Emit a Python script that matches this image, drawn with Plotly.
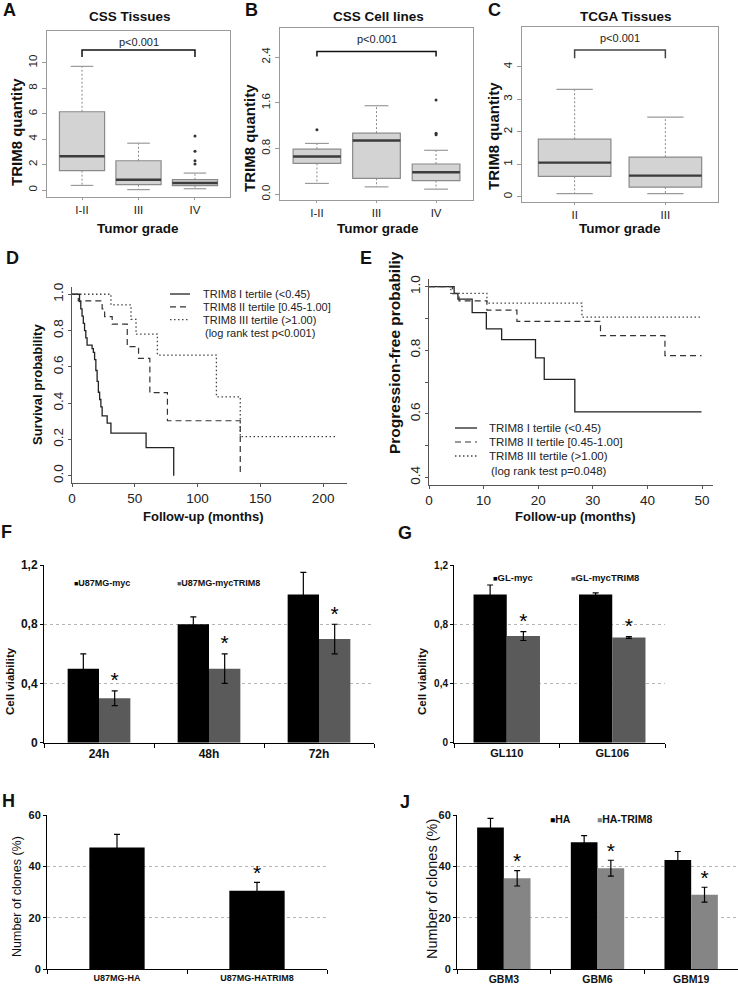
import plotly.graph_objects as go

W, H = 738, 987
FONT = "Liberation Sans, Arial, sans-serif"

# ---------------- data ----------------
# A: CSS Tissues
a_groups = ["I-II", "III", "IV"]
a_low = [0.36, 0.03, 0.10]
a_q1 = [1.52, 0.42, 0.34]
a_med = [2.65, 0.81, 0.55]
a_q3 = [6.15, 2.30, 0.81]
a_high = [9.72, 3.68, 1.33]
a_out_grp = [3, 3, 3, 3]
a_out_val = [2.05, 2.30, 3.05, 4.25]

# B: CSS Cell lines
b_groups = ["I-II", "III", "IV"]
b_low = [0.19, 0.13, 0.09]
b_q1 = [0.54, 0.28, 0.24]
b_med = [0.66, 0.94, 0.385]
b_q3 = [0.79, 1.07, 0.53]
b_high = [0.89, 1.55, 0.77]
b_out_grp = [1, 3, 3, 3]
b_out_val = [1.13, 1.04, 1.07, 1.65]

# C: TCGA Tissues
c_groups = ["II", "III"]
c_low = [0.10, 0.10]
c_q1 = [0.63, 0.30]
c_med = [1.05, 0.65]
c_q3 = [1.77, 1.22]
c_high = [3.30, 2.45]

# D: overall survival (months, probability)
tert_labels = ["TRIM8 I tertile (<0.45)", "TRIM8 II tertile [0.45-1.00]", "TRIM8 III tertile (>1.00)"]
d1_t = [0, 6, 7, 8, 9, 10, 11, 12, 16, 17, 18, 19, 20, 21, 22, 23, 24, 28, 31, 59, 81]
d1_s = [1.0, 0.96, 0.92, 0.88, 0.84, 0.80, 0.76, 0.72, 0.70, 0.68, 0.64, 0.58, 0.52, 0.46, 0.42,
        0.38, 0.33, 0.29, 0.235, 0.155, 0.0]
d2_t = [0, 5, 24, 26, 32, 44, 53, 62, 76, 134]
d2_s = [1.0, 0.963, 0.92, 0.877, 0.835, 0.711, 0.647, 0.458, 0.303, 0.0]
d3_t = [0, 31, 47, 51, 68, 115, 134, 210]
d3_s = [1.0, 0.941, 0.862, 0.78, 0.665, 0.435, 0.215, 0.215]

# E: progression-free survival
e1_t = [0, 4.6, 5.3, 7.9, 10.5, 13.3, 19.5, 21.1, 26.7, 49.9]
e1_s = [1.0, 0.979, 0.961, 0.918, 0.867, 0.833, 0.776, 0.708, 0.606, 0.606]
e2_t = [0, 4.3, 5.5, 10.6, 16.1, 31.4, 43.2, 49.9]
e2_s = [1.0, 0.978, 0.955, 0.926, 0.891, 0.846, 0.783, 0.783]
e3_t = [0, 4.0, 10.6, 28.0, 49.9]
e3_s = [1.0, 0.979, 0.948, 0.904, 0.904]

# F: cell viability U87MG
f_cats = ["24h", "48h", "72h"]
f_myc = [0.50, 0.80, 1.00]
f_myc_err = [0.10, 0.05, 0.15]
f_trim = [0.30, 0.50, 0.70]
f_trim_err = [0.05, 0.10, 0.10]
f_star = [0, 1, 2]

# G: cell viability GL lines
g_cats = ["GL110", "GL106"]
g_myc = [1.00, 1.00]
g_myc_err = [0.065, 0.012]
g_trim = [0.72, 0.71]
g_trim_err = [0.03, 0.006]
g_star = [0, 1]

# H: clones U87MG
h_cats = ["U87MG-HA", "U87MG-HATRIM8"]
h_vals = [47.4, 30.5]
h_err = [5.1, 3.3]
h_star = [1]

# J: clones GBM
j_cats = ["GBM3", "GBM6", "GBM19"]
j_ha = [55.1, 49.4, 42.5]
j_ha_err = [3.6, 2.6, 3.3]
j_trim = [35.4, 39.3, 29.0]
j_trim_err = [3.0, 3.1, 2.9]
j_star = [0, 1, 2]


def px(x):
    return x / W


def py(y):
    return 1 - y / H


def dom_x(x0, x1):
    return [x0 / W, x1 / W]


def dom_y(y0, y1):
    return [1 - y1 / H, 1 - y0 / H]


def aid(n):
    return "" if n == 1 else str(n)


fig = go.Figure()
annots = []


def text(x, y, s, size, bold=False, angle=0, xanchor="center", color="#111"):
    annots.append(dict(x=px(x), y=py(y), xref="paper", yref="paper", text=f"<b>{s}</b>" if bold else s,
                       showarrow=False, xanchor=xanchor, yanchor="middle", textangle=angle,
                       font=dict(family=FONT, size=size, color=color)))


# ---------------- box plots ----------------
def add_box_panel(n, groups, low, q1, med, q3, high, out_g=None, out_v=None):
    xa, ya = "x" + aid(n), "y" + aid(n)
    pos = list(range(1, len(groups) + 1))
    fig.add_trace(go.Box(x=pos, q1=q1, median=med, q3=q3, lowerfence=q1, upperfence=q3,
                         width=0.8, whiskerwidth=0, fillcolor="#d3d3d3",
                         line=dict(color="#8a8a8a", width=1.2), xaxis=xa, yaxis=ya,
                         hoverinfo="skip", showlegend=False))
    wx, wy, cx, cy, mx, my = [], [], [], [], [], []
    for p, lo, a, m, b, hi in zip(pos, low, q1, med, q3, high):
        wx += [p, p, None, p, p, None]
        wy += [b, hi, None, a, lo, None]
        cx += [p - 0.2, p + 0.2, None, p - 0.2, p + 0.2, None]
        cy += [hi, hi, None, lo, lo, None]
        mx += [p - 0.4, p + 0.4, None]
        my += [m, m, None]
    fig.add_trace(go.Scatter(x=wx, y=wy, mode="lines", xaxis=xa, yaxis=ya, showlegend=False,
                             line=dict(color="#8a8a8a", width=1, dash="2px,2px"), hoverinfo="skip"))
    fig.add_trace(go.Scatter(x=cx, y=cy, mode="lines", xaxis=xa, yaxis=ya, showlegend=False,
                             line=dict(color="#9a9a9a", width=1.2), hoverinfo="skip"))
    fig.add_trace(go.Scatter(x=mx, y=my, mode="lines", xaxis=xa, yaxis=ya, showlegend=False,
                             line=dict(color="#3c3c3c", width=2.4), hoverinfo="skip"))
    if out_g:
        fig.add_trace(go.Scatter(x=out_g, y=out_v, mode="markers", xaxis=xa, yaxis=ya, showlegend=False,
                                 marker=dict(color="#333", size=3), hoverinfo="skip"))


def add_bracket(n, g0, g1, y_lo, y_hi, y_txt, color):
    xa, ya = "x" + aid(n), "y" + aid(n)
    fig.add_trace(go.Scatter(x=[g0, g0, g1, g1], y=[y_lo, y_hi, y_hi, y_lo], mode="lines",
                             xaxis=xa, yaxis=ya, showlegend=False, hoverinfo="skip",
                             line=dict(color=color, width=1.5)))
    annots.append(dict(x=(g0 + g1) / 2, y=y_txt, xref=xa, yref=ya, text="p&lt;0.001", showarrow=False,
                       font=dict(family=FONT, size=11, color="#222")))


add_box_panel(1, a_groups, a_low, a_q1, a_med, a_q3, a_high, a_out_grp, a_out_val)
add_box_panel(2, b_groups, b_low, b_q1, b_med, b_q3, b_high, b_out_grp, b_out_val)
add_box_panel(3, c_groups, c_low, c_q1, c_med, c_q3, c_high)
add_bracket(1, 1, 3, 10.45, 11.0, 11.65, "#111")
add_bracket(2, 1, 3, 2.41, 2.50, 2.72, "#111")
add_bracket(3, 1, 2, 4.26, 4.51, 4.87, "#444")


def box_axes(n, xdom, ydom, ngroups, groups, yr, yt, ytxt):
    ax = dict(showline=True, mirror=True, linecolor="#9a9a9a", linewidth=1, ticks="outside", ticklen=2,
              tickcolor="#9a9a9a", showgrid=False, zeroline=False, automargin=False,
              tickfont=dict(family=FONT, size=11.5, color="#222"))
    fig.layout["xaxis" + aid(n)] = dict(ax, domain=xdom, anchor="y" + aid(n),
                                        range=[0.5 - 0.04 * ngroups, ngroups + 0.5 + 0.04 * ngroups],
                                        tickvals=list(range(1, ngroups + 1)), ticktext=groups)
    fig.layout["yaxis" + aid(n)] = dict(ax, domain=ydom, anchor="x" + aid(n), range=yr, ticklen=4,
                                        tickvals=yt, ticktext=ytxt, tickangle=-90)


box_axes(1, dom_x(47, 230), dom_y(31, 197), 3, a_groups, [-0.55, 12.5], [0, 2, 4, 6, 8, 10],
         ["0", "2", "4", "6", "8", "10"])
box_axes(2, dom_x(280, 473), dom_y(28, 200), 3, b_groups, [-0.1, 2.91], [0, 0.8, 1.6, 2.4],
         ["0.0", "0.8", "1.6", "2.4"])
box_axes(3, dom_x(522, 718), dom_y(27, 202), 2, c_groups, [-0.16, 5.22], [0, 1, 2, 3, 4],
         ["0", "1", "2", "3", "4"])

for lab, x in [("A", 9), ("B", 251), ("C", 494)]:
    text(x, 10, lab, 18, bold=True)
for t, x in [("CSS Tissues", 130), ("CSS Cell lines", 378), ("TCGA Tissues", 626)]:
    text(x, 17, t, 13.5, bold=True)
for x in [138, 378, 620]:
    text(x, 228, "Tumor grade", 13.5, bold=True)
for x, y in [(16, 132), (250, 138), (494, 136)]:
    text(x, y, "TRIM8 quantity", 15, bold=True, angle=-90)

# ---------------- survival curves ----------------
styles = [dict(color="#222", width=1.3), dict(color="#333", width=1.2, dash="6px,4px"),
          dict(color="#444", width=1.3, dash="1.5px,2.5px")]
for ts, ss, st in zip([d1_t, d2_t, d3_t], [d1_s, d2_s, d3_s], styles):
    fig.add_trace(go.Scatter(x=ts, y=ss, mode="lines", line_shape="hv", line=st, xaxis="x4", yaxis="y4",
                             showlegend=False, hoverinfo="skip"))
for ts, ss, st in zip([e1_t, e2_t, e3_t], [e1_s, e2_s, e3_s], styles):
    fig.add_trace(go.Scatter(x=ts, y=ss, mode="lines", line_shape="hv", line=st, xaxis="x5", yaxis="y5",
                             showlegend=False, hoverinfo="skip"))

surv_ax = dict(showline=True, mirror=False, linecolor="#555", linewidth=1, ticks="outside", ticklen=3,
               tickcolor="#555", showgrid=False, zeroline=False, automargin=False,
               tickfont=dict(family=FONT, size=13.5, color="#222"))
fig.layout.xaxis4 = dict(surv_ax, domain=dom_x(72, 347), anchor="y4", range=[0, 219],
                         tickvals=[0, 50, 100, 150, 200])
fig.layout.yaxis4 = dict(surv_ax, domain=dom_y(287, 483), anchor="x4", range=[-0.04, 1.04],
                         tickvals=[0, 0.2, 0.4, 0.6, 0.8, 1.0],
                         ticktext=["0.0", "0.2", "0.4", "0.6", "0.8", "1.0"], tickangle=-90)
fig.layout.xaxis5 = dict(surv_ax, domain=dom_x(429, 713), anchor="y5", range=[0, 52],
                         tickvals=[0, 10, 20, 30, 40, 50])
fig.layout.yaxis5 = dict(surv_ax, domain=dom_y(279, 485), anchor="x5", range=[0.376, 1.024],
                         tickvals=[0.4, 0.5, 0.6, 0.7, 0.8, 0.9, 1.0],
                         ticktext=["0.4", "", "0.6", "", "0.8", "", "1.0"], tickangle=-90)

# legend keys
shapes = []
for (lx0, lx1, tx, y0, step, note, ny, fs), p_txt in zip(
        [(170, 190, 201, 294, 12.8, 203, 333, 11), (455, 477, 487, 428, 14, 489, 471, 11.5)],
        ["(log rank test p&lt;0.001)", "(log rank test p=0.048)"]):
    for i, (lab, st) in enumerate(zip(tert_labels, styles)):
        yy = y0 + i * step
        shapes.append(dict(type="line", xref="paper", yref="paper", x0=px(lx0), x1=px(lx1),
                           y0=py(yy), y1=py(yy), line=st))
        text(tx, yy, lab.replace("<", "&lt;").replace(">", "&gt;"), fs, xanchor="left", color="#222")
    text(note, ny, p_txt, fs, xanchor="left", color="#222")

text(12, 258, "D", 18, bold=True)
text(366, 258, "E", 18, bold=True)
text(37, 385, "Survival probability", 13, bold=True, angle=-90)
text(395, 353, "Progression-free probabiliy", 15.5, bold=True, angle=-90)
text(203, 516, "Follow-up (months)", 13, bold=True)
text(575, 516, "Follow-up (months)", 13, bold=True)

# ---------------- bar charts ----------------
BLACK, DGRAY, LGRAY = "#000000", "#5a5a5a", "#858585"


def add_bar_panel(n, cats, series, w, stars, pad, star_size=21):
    xa, ya = "x" + aid(n), "y" + aid(n)
    pos = list(range(len(cats)))
    k = len(series)
    for j, (vals, errs, col) in enumerate(series):
        off = -w * k / 2 + j * w
        fig.add_trace(go.Bar(x=pos, y=vals, width=w, offset=off, marker=dict(color=col, line=dict(width=0)),
                             error_y=dict(type="data", array=errs, visible=True, color="black",
                                          thickness=1.2, width=3),
                             xaxis=xa, yaxis=ya, showlegend=False, hoverinfo="skip"))
    vals, errs, col = series[-1]
    off = -w * k / 2 + (k - 1) * w + w / 2
    fig.add_trace(go.Scatter(x=[pos[i] + off for i in stars], y=[vals[i] + errs[i] + pad for i in stars],
                             mode="text", text=["*"] * len(stars), textposition="middle center",
                             textfont=dict(family=FONT, size=star_size, color="black"),
                             xaxis=xa, yaxis=ya, showlegend=False, hoverinfo="skip"))


add_bar_panel(6, f_cats, [(f_myc, f_myc_err, BLACK), (f_trim, f_trim_err, DGRAY)], 0.285, f_star, 0.06)
add_bar_panel(7, g_cats, [(g_myc, g_myc_err, BLACK), (g_trim, g_trim_err, DGRAY)], 0.315, g_star, 0.06)
add_bar_panel(8, h_cats, [(h_vals, h_err, BLACK)], 0.395, h_star, 3.0)
add_bar_panel(9, j_cats, [(j_ha, j_ha_err, BLACK), (j_trim, j_trim_err, LGRAY)], 0.285, j_star, 3.0)


def bar_axes(n, xdom, ydom, cats, yr, yt, ytxt, xfs, yfs):
    nc = len(cats)
    fig.layout["xaxis" + aid(n)] = dict(
        domain=xdom, anchor="y" + aid(n), range=[-0.5, nc - 0.5], showline=True, linecolor="black",
        linewidth=1, ticks="", tickvals=list(range(nc)), ticktext=cats, showgrid=False, zeroline=False,
        automargin=False, tickfont=dict(family=FONT, size=xfs, color="#111", weight="bold"),
        minor=dict(tickvals=[i - 0.5 for i in range(nc + 1)], ticks="outside", ticklen=4,
                   tickcolor="black", showgrid=False))
    fig.layout["yaxis" + aid(n)] = dict(
        domain=ydom, anchor="x" + aid(n), range=yr, showline=True, linecolor="black", linewidth=1,
        ticks="outside", ticklen=3, tickcolor="black", tickvals=yt, ticktext=ytxt, showgrid=True,
        gridcolor="#b5b5b5", griddash="dot", gridwidth=1, zeroline=False, automargin=False,
        tickfont=dict(family=FONT, size=yfs, color="#111", weight="bold"))


cv_t, cv_txt = [0, 0.4, 0.8, 1.2], ["0", "0,4", "0,8", "1,2"]
cl_t, cl_txt = [0, 20, 40, 60], ["0", "20", "40", "60"]
bar_axes(6, dom_x(44, 374), dom_y(565, 742.7), f_cats, [0, 1.2], cv_t, cv_txt, 12, 12)
bar_axes(7, dom_x(454, 665), dom_y(565, 742.7), g_cats, [0, 1.2], cv_t, cv_txt, 11, 10)
bar_axes(8, dom_x(47, 327), dom_y(815, 969.3), h_cats, [0, 60], cl_t, cl_txt, 9, 11)
bar_axes(9, dom_x(457, 738), dom_y(815, 969.3), j_cats, [0, 60], cl_t, cl_txt, 10.5, 11)


def key(x, y, col, lab, size):
    annots.append(dict(x=px(x), y=py(y), xref="paper", yref="paper", showarrow=False, xanchor="left",
                       yanchor="middle",
                       text=f"<span style='color:{col};font-size:{size - 2}px'>■</span><b>{lab}</b>",
                       font=dict(family=FONT, size=size, color="#111")))


key(72, 583, BLACK, "U87MG-myc", 9)
key(175, 583, DGRAY, "U87MG-mycTRIM8", 9)
key(491, 577, BLACK, "GL-myc", 9.5)
key(569, 577, DGRAY, "GL-mycTRIM8", 9.5)
key(548, 819, BLACK, "HA", 10.5)
key(595, 819, LGRAY, "HA-TRIM8", 10.5)

text(6, 532, "F", 18, bold=True)
text(405, 533, "G", 18, bold=True)
text(8, 801, "H", 18, bold=True)
text(405, 802, "J", 18, bold=True)
text(10, 681, "Cell viability", 11.5, bold=True, angle=-90)
text(422, 681, "Cell viability", 11.5, bold=True, angle=-90)
text(17, 897, "Number of clones (%)", 12.5, angle=-90)
text(432, 889, "Number of clones (%)", 14.5, angle=-90)

fig.update_layout(width=W, height=H, margin=dict(l=0, r=0, t=0, b=0, pad=0), paper_bgcolor="white",
                  plot_bgcolor="white", showlegend=False, annotations=annots, shapes=shapes,
                  font=dict(family=FONT))
# the page body has a default 8px margin; drop it so the figure sits at the window's origin
fig.write_html("out.html", config={"displayModeBar": False},
               post_script="document.body.style.margin='0px';")
